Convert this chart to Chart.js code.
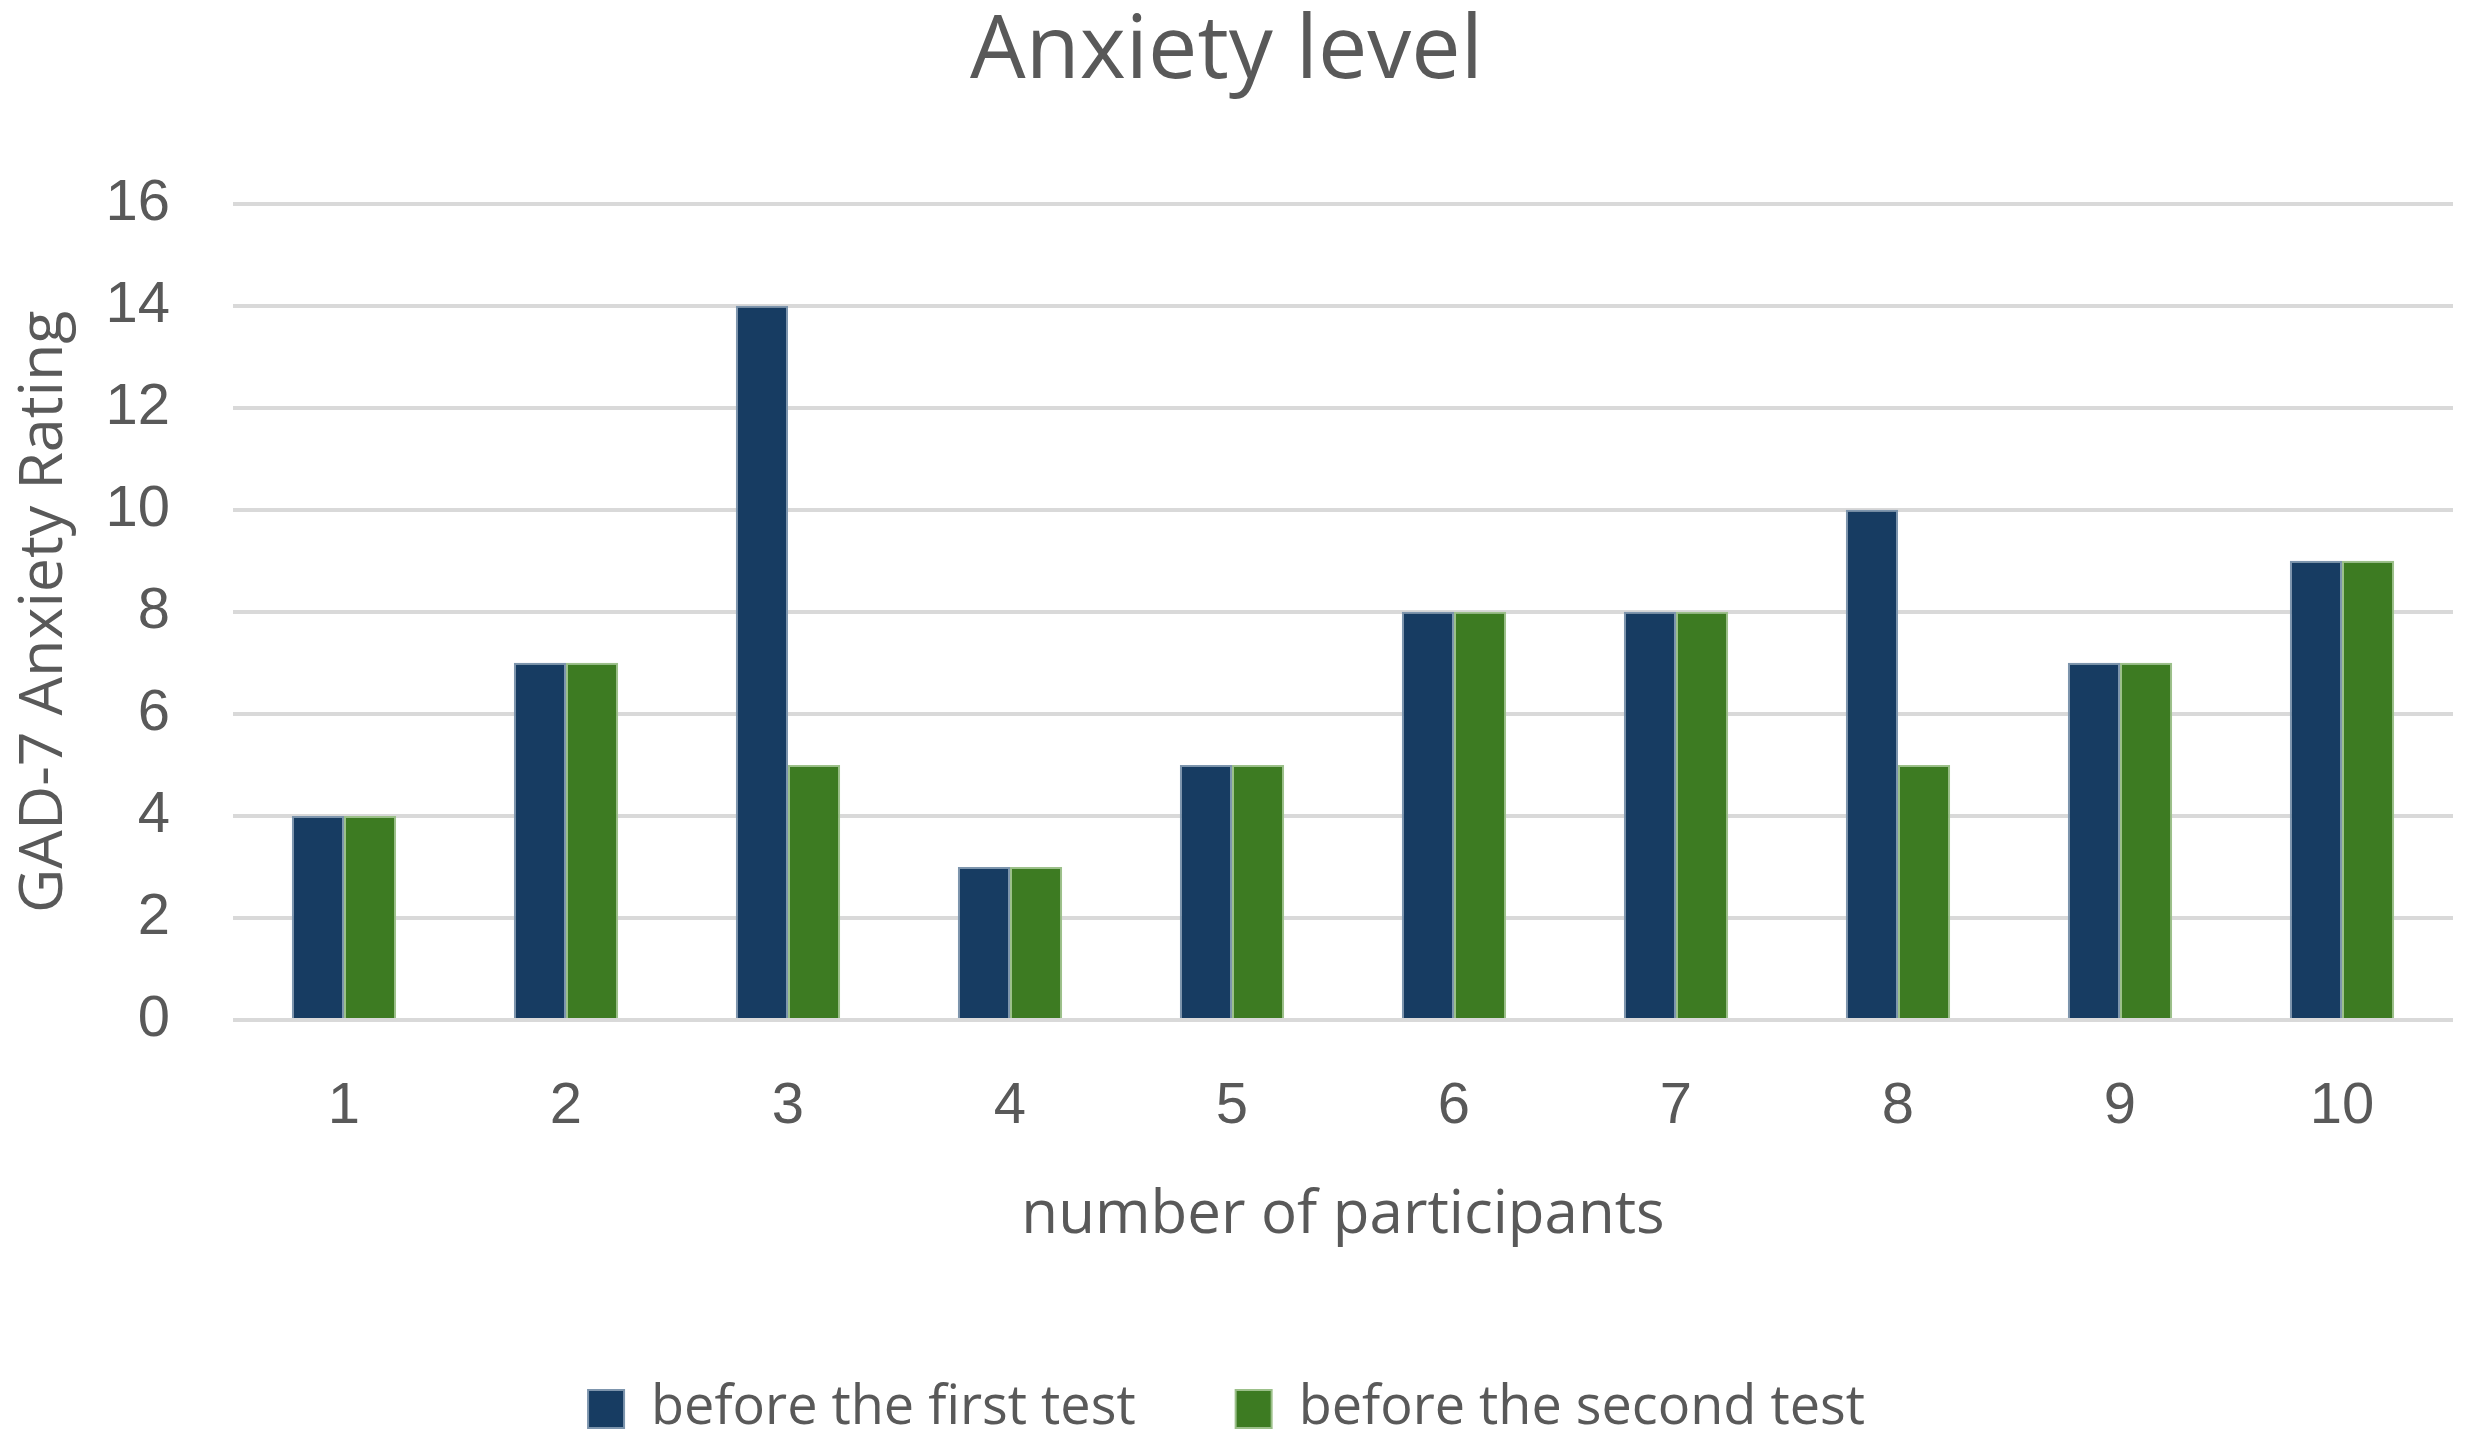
<!DOCTYPE html>
<html>
<head>
<meta charset="utf-8">
<script src="https://cdn.jsdelivr.net/npm/chart.js@4.4.1/dist/chart.umd.min.js"></script>
<style>
  html, body { margin: 0; padding: 0; background: #ffffff; }
  #wrap { width: 2471px; height: 1446px; position: relative; }
</style>
</head>
<body>
<div id="wrap"><canvas id="c"></canvas></div>
<script>
const chartTitle = 'Anxiety level';
const categories = ['1', '2', '3', '4', '5', '6', '7', '8', '9', '10'];
const seriesNames = ['before the first test', 'before the second test'];
const beforeFirst = [4, 7, 14, 3, 5, 8, 8, 10, 7, 9];
const beforeSecond = [4, 7, 5, 3, 5, 8, 8, 5, 7, 9];
const yTitle = 'GAD-7 Anxiety Rating';
const xTitle = 'number of participants';
const yMin = 0, yMax = 16, yStep = 2;

const textColor = '#595959';
const titleFont = 'Open Sans';
const tickFont = 'Liberation Sans';

new Chart(document.getElementById('c'), {
  type: 'bar',
  data: {
    labels: categories,
    datasets: [
      {
        label: seriesNames[0],
        data: beforeFirst,
        backgroundColor: '#173c62',
        borderColor: '#7d95ad',
        borderWidth: 2,
        categoryPercentage: 0.47,
        barPercentage: 1.0
      },
      {
        label: seriesNames[1],
        data: beforeSecond,
        backgroundColor: '#3d7b22',
        borderColor: '#9cc08a',
        borderWidth: 2,
        categoryPercentage: 0.47,
        barPercentage: 1.0
      }
    ]
  },
  options: {
    responsive: true,
    maintainAspectRatio: false,
    animation: false,
    devicePixelRatio: 1,
    layout: { padding: { left: 0, right: 18, top: 0, bottom: 0 } },
    plugins: {
      title: {
        display: true,
        text: chartTitle,
        color: textColor,
        font: { family: titleFont, size: 88, weight: 'normal' },
        padding: { top: 0, bottom: 98 }
      },
      legend: {
        display: true,
        position: 'bottom',
        labels: {
          color: textColor,
          font: { family: titleFont, size: 54 },
          boxWidth: 36,
          boxHeight: 38,
          padding: 100
        }
      },
      tooltip: { enabled: false }
    },
    scales: {
      x: {
        grid: { display: false, drawTicks: false },
        border: { display: false },
        ticks: {
          color: textColor,
          font: { family: tickFont, size: 58 },
          padding: 52
        },
        title: {
          display: true,
          text: xTitle,
          color: textColor,
          font: { family: titleFont, size: 60 },
          padding: { top: 0, bottom: 30 }
        },
        afterFit: function (s) { s.height = 262; }
      },
      y: {
        min: yMin,
        max: yMax,
        grid: { color: '#d9d9d9', lineWidth: 4, drawTicks: false },
        border: { display: false },
        ticks: {
          stepSize: yStep,
          color: textColor,
          font: { family: tickFont, size: 58 },
          padding: 63
        },
        title: {
          display: true,
          text: yTitle,
          color: textColor,
          font: { family: titleFont, size: 61 },
          padding: { top: 8, bottom: 0 }
        },
        afterFit: function (s) { s.width = 233; }
      }
    }
  }
});
</script>
</body>
</html>
